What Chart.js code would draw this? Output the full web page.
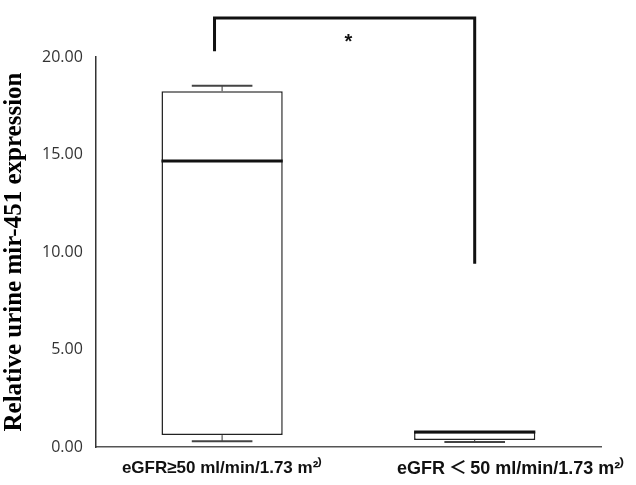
<!DOCTYPE html>
<html>
<head>
<meta charset="utf-8">
<script src="https://cdn.jsdelivr.net/npm/chart.js@4.4.0/dist/chart.umd.min.js"></script>
<style>
  html, body { margin: 0; padding: 0; background: #fff; }
  #wrap { width: 636px; height: 485px; }
</style>
</head>
<body>
<div id="wrap"><canvas id="chart"></canvas></div>
<script>
// groups
const categories = ['eGFR\u226550 ml/min/1.73 m\u00b2\u207e', '\u2003\u2003\u2003\u2003eGFR\u2009\uff1c\u200950 ml/min/1.73 m\u00b2\u207e'];
// box plot values
const q1Values = [0.61, 0.36];
const medianValues = [14.67, 0.77];
const q3Values = [18.25, 0.77];
const whiskerLow = [0.29, 0.26];
const whiskerHigh = [18.52, 0.77];
// significance bracket: [x index, y value] points, and star position
const bracketPoints = [[-0.03, 20.3], [-0.03, 22.0], [1.0, 22.0], [1.0, 9.4]];
const starPos = [0.5, 20.75];

const boxExtras = {
    id: 'boxExtras',
    afterDatasetsDraw(chart) {
        const ctx = chart.ctx;
        const x = chart.scales.x, y = chart.scales.y;
        const meta = chart.getDatasetMeta(0);
        ctx.save();
        categories.forEach((c, i) => {
            const cx = x.getPixelForValue(i);
            const half = meta.data[i].width / 2;
            // whiskers
            ctx.strokeStyle = '#333';
            ctx.lineWidth = 1;
            ctx.beginPath();
            ctx.moveTo(cx, y.getPixelForValue(whiskerHigh[i]));
            ctx.lineTo(cx, y.getPixelForValue(q3Values[i]));
            ctx.moveTo(cx, y.getPixelForValue(whiskerLow[i]));
            ctx.lineTo(cx, y.getPixelForValue(q1Values[i]));
            ctx.stroke();
            // caps
            ctx.strokeStyle = '#444';
            ctx.lineWidth = 2;
            ctx.beginPath();
            if (whiskerHigh[i] > q3Values[i]) {
                ctx.moveTo(cx - half / 2, y.getPixelForValue(whiskerHigh[i]));
                ctx.lineTo(cx + half / 2, y.getPixelForValue(whiskerHigh[i]));
            }
            ctx.moveTo(cx - half / 2, y.getPixelForValue(whiskerLow[i]));
            ctx.lineTo(cx + half / 2, y.getPixelForValue(whiskerLow[i]));
            ctx.stroke();
            // median
            ctx.strokeStyle = '#111';
            ctx.lineWidth = 3;
            ctx.beginPath();
            ctx.moveTo(cx - half, y.getPixelForValue(medianValues[i]));
            ctx.lineTo(cx + half, y.getPixelForValue(medianValues[i]));
            ctx.stroke();
        });
        ctx.restore();
    },
    afterDraw(chart) {
        const ctx = chart.ctx;
        const x = chart.scales.x, y = chart.scales.y;
        ctx.save();
        ctx.strokeStyle = '#111';
        ctx.lineWidth = 3;
        ctx.lineJoin = 'miter';
        ctx.beginPath();
        bracketPoints.forEach((p, k) => {
            const px = x.getPixelForValue(p[0]), py = y.getPixelForValue(p[1]);
            if (k === 0) ctx.moveTo(px, py); else ctx.lineTo(px, py);
        });
        ctx.stroke();
        ctx.fillStyle = '#111';
        ctx.font = 'bold 20px "Liberation Sans", Arial, sans-serif';
        ctx.textAlign = 'center';
        ctx.textBaseline = 'middle';
        ctx.fillText('*', x.getPixelForValue(starPos[0]), y.getPixelForValue(starPos[1]));
        ctx.restore();
    }
};

const ctx = document.getElementById('chart').getContext('2d');
new Chart(ctx, {
    type: 'bar',
    data: {
        labels: categories,
        datasets: [{
            data: q1Values.map((v, i) => [v, q3Values[i]]),
            backgroundColor: '#ffffff',
            borderColor: '#222',
            borderWidth: 1.5,
            borderSkipped: false,
            barPercentage: 0.48,
            categoryPercentage: 1.0
        }]
    },
    options: {
        responsive: true,
        maintainAspectRatio: false,
        animation: false,
        layout: { padding: { top: 57, right: 35, left: 0, bottom: 0 } },
        plugins: {
            legend: { display: false },
            tooltip: { enabled: false }
        },
        scales: {
            x: {
                afterFit: s => { s.height = 38; s.paddingLeft = 0; s.paddingRight = 0; },
                grid: { display: false, drawTicks: false },
                border: { color: '#555', width: 1.5 },
                ticks: {
                    color: '#111',
                    padding: 11,
                    maxRotation: 0,
                    autoSkip: false,
                    font: c => ({
                        family: '"Liberation Sans", Arial, "Noto Sans CJK JP", sans-serif',
                        size: c.index === 1 ? 18 : 17,
                        weight: 'bold'
                    })
                }
            },
            y: {
                min: 0,
                max: 20,
                grid: { display: false, drawTicks: true, tickLength: 5, tickColor: '#333' },
                border: { color: '#333', width: 1.5 },
                ticks: {
                    stepSize: 5,
                    color: '#333',
                    padding: 8,
                    font: { family: '"Open Sans", sans-serif', size: 16 },
                    callback: v => v.toFixed(2)
                },
                title: {
                    display: true,
                    text: 'Relative urine mir-451 expression',
                    color: '#000',
                    padding: { top: 0, bottom: 4 },
                    font: { family: '"Liberation Serif", "Times New Roman", serif', size: 25, weight: 'bold' }
                }
            }
        }
    },
    plugins: [boxExtras]
});
</script>
</body>
</html>
